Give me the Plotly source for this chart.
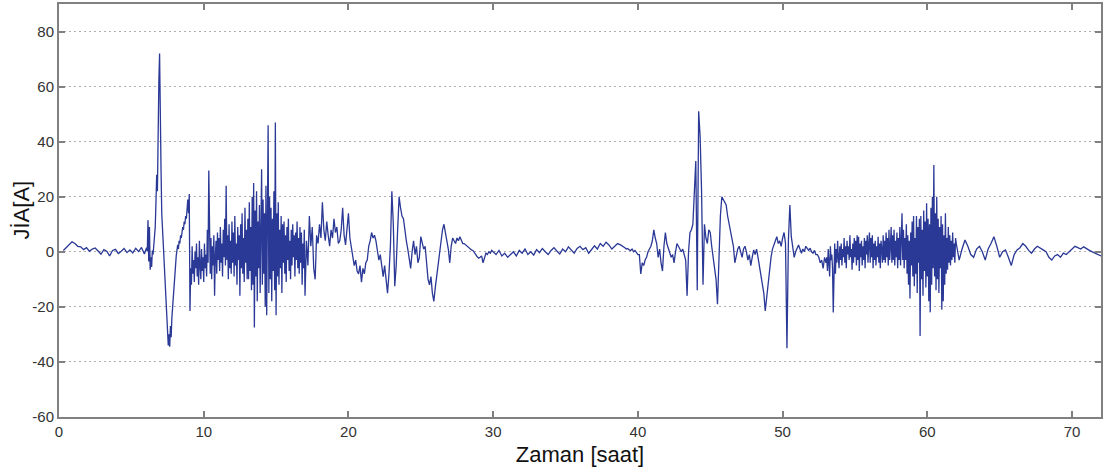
import numpy as np
import plotly.graph_objects as go

# Leakage-current record, sampled in segments: (start hour, step in hours, values in A)
quiet_start_t0, quiet_start_dt = 0.3, 0.2
quiet_start = [0.5, 1.5, 2.8, 3.6, 3.0, 2.0, 1.8, 0.8, 1.5, 0.2, 1.0, 1.4, 0.3, -0.9, 0.8,
               0.2, -1.5, 0.5, 0.9, -0.6, 0.2, 1.2, -0.3, 0.7, -0.4, 1.3, 0.1, 1.6, -0.8]

surge_t0, surge_dt = 6.0, 0.05
surge = [0.8, 1.5, 0.2, 11.5, -3.5, 9.0, -6.5, -2.0, -5.5, 0.5,
         -1.0, 1.5, 4.0, 9.0, 18.0, 28.0, 22.0, 48.0, 62.0, 72.0,
         58.0, 30.0, 14.0, 8.0, 4.0, -3.0, -9.0, -15.0, -21.0, -26.0,
         -31.0, -34.0, -30.0, -34.5, -27.0, -31.0, -24.0, -20.0, -15.0, -11.0,
         -7.0, -4.0, -1.5, 0.5, 2.5, 1.0, 4.0, 3.0, 6.0, 5.0,
         7.5, 9.0, 8.0, 11.0, 10.0, 13.0, 12.0, 16.0, 19.0, 14.0, 21.0]

burst_a_t0, burst_a_dt = 9.05, 0.05
burst_a = [-21.5, -6, -12, 2, -8, -3, -11, 0, -6, 3,
           -9, -2, -12, 4, -5, -10, 1, -7, -2, -11,
           3, -6, -1, -9, 8, -4, 29.5, -3, -8, 5,
           -10, 2, -5, 6, -16, -2, 4, -8, 7, -3,
           5, -7, 9, -4, 3, -9, 8, -2, 12, -5,
           24, -3, 6, -10, 10, -6, 4, -8, 11, -4,
           7, -9, 13, -5, 3, -12, 9, -3, 6, -16,
           10, -6, 14, -8, 5, -11, 16, -4, 8, -10,
           12, -10, 18, -7, 9, -14, 20, -12, 25, -27.5,
           15, -9, 22, -18, 11, -6, 17, -15, 9, 30,
           -12, 19, -8, 14, -20, 24, -23, 10, 46, -15,
           20, -10, 16, -18, 12, -7, 22, -14, 47, -23,
           14, -9, 18, -12, 8, -6, 13, -15, 10, -4,
           11, -8, 6, -11, 9, -3, 12, -7, 4, -10,
           8, -5, 10, -2, 6, -9, 7, -3, 11, -6,
           5, -8, 9, -4, 7, -12, 3, -6, 8, -16]

swing_t0, swing_dt = 17.1, 0.1
swing = [4, -5, 13, 2, 9, -6, -10, 6, 3, 10,
         5, 18, 8, 4, 11, 6, 2, 8, 5, 12,
         7, 9, 3, 4, 8, 16, 6, 2.5, 9, 14,
         5, 2, -2, -5, -3, -7, -8, -5, -11, -6,
         -8, -4, -3, 2, 4, 7, 5, 6, 4, 1,
         -3, -1, -6, -9, -5, -11, -15, -8, 2, 22,
         10, -12.5, -5, 8, 20, 16, 13, 12, 7, 4,
         1, -3, -6, 0, 4, -1, 2, -4, -2, 5.5,
         3, 1, 2, -3, -10, -12, -9, -15, -18, -13,
         -9, -3, 1, 4, 8, 10, 6, 4, 1, -4,
         2, 5, 4, 3, 5, 4, 5.5, 4, 3, 3,
         2.5, 2, 1.5, 1, 0.7, 0.5, -0.5, -1, -1.8, -2.3,
         -2, -1.5, -4, -2.5, -0.5, -1, 0, -0.5, 0.5, 0]

quiet_mid_t0, quiet_mid_dt = 30.2, 0.2
quiet_mid = [-1, 0.5, -1.5, -0.5, -2, -1, 0, -1.5, 0.5, -0.5,
             1, -1, 0, -1.2, 0.8, -0.3, 1.2, 0, -1, 0.5,
             1.5, 0.3, -0.8, 1, 0, 1.8, 0.5, -0.5, 1.2, 2,
             0.8, 1.5, -0.5, 1, 2.2, 1, 3, 2, 3.5, 2.5,
             1, 2, 3, 2.5]

second_t0, second_dt = 39.0, 0.1
second = [2, 1.5, 1, 1.2, 0.7, 0.5, 1, 0, 0.5, -0.5,
          -1, -1, -8, -4, -5, -3, -2, 0, 1, 2,
          4, 8, 5, 3, -2, 1, -4, -7, 2, 7,
          3, 1, 0, -2, -1, -4, 0, 3, 2, 1,
          0, 1, -1, -3, -16, 0, 7, 8, 10, 20,
          33, -14, 51, 42, 22, -12, 10, 5, 3, 8,
          7, 2, -2, -4, -10, -19, 1, 13, 20, 19,
          18, 17, 13, 10, 8, 5.5, 2, -4, -1, 1,
          2, 0, -2, 1, 2, 0, -3, -1, -5, -2,
          0.7, -1, 1, -2, -5, -9, -12, -15, -21.5, -16,
          -12.5, -6, -2, 1, 3, 4, 5.5, 3, 4, 2,
          5, 7, 3, -35, 4, 17, 5.5, 2, -2, 0,
          1, 2.5, 1, -0.5, 1, 0, 2, 1, 0.5, 1.3,
          0, -0.5, 0.5, -1, -1, -2, -4, -3, -6, -2, -4]

burst_b_t0, burst_b_dt = 53.05, 0.05
burst_b = [-2, -7, 1, -4, -9, 2, -3, -1, -6, -22,
           -5, 3, -8, 1, -4, 4, -2, -6, 2, -3,
           3, -5, 1, -2, 5, -4, 2, -6, 4, -1,
           2, -3, 6, -2, 1, -6.5, 3, -4, 5, -2,
           4, -5, 6, -3, 5.5, -7, 3, -2, 4, -5,
           2, -3, 5, -6, 4, -1, 6, -4, 3, 7,
           -4, 5, -2, 6, -6, 3, -3, 4, -5, 2,
           -2, 5.5, -4, 3, -6, 4, 1, -4, 6, -3,
           4, -4, 7, -2, 5, -5, 8, -3, 2, 9,
           -4, 6, -3, 8, -5, 4, -2, 7, -6, 5,
           -3, 9, -5, 6, 14, -3, 8, -6, 5, -3,
           10, -8, 6, -12, 4, -17, 7, -5, 11, -9,
           13, -12.5, 5, -8, 13, -15, 9, -4, 12, -30.6,
           13, -10, 8, -16, 15, -7, 11, -13, 17.6, -9,
           12, -18, 10, -22, 16, -12, 20, -6, 31.5, -9,
           14, -14, 20, -10, 12, -15, 9, -6, 13, -21,
           10, -18, 6, -12, 14, -8, 5, -6.5, 9, -4,
           6, -5, 4, -3, 7, -2, 3, -4, 5, 3]

quiet_end_t0, quiet_end_dt = 62.2, 0.2
quiet_end = [-3, 1, 4.3, 2, -1, -2, 1, 2, 0, -3,
             1, 3, 5.5, 2, -2, 0, 0.7, -2, -5, -1,
             0.7, 1.5, 3, 2, 0.5, -0.5, 1, 2, 1.5, 0.7,
             0, -2, -3, -1.5, -1, -2, -0.5, -1, 0, 1,
             2, 1.5, 1, 1.8, 1, 0.5, 0, -0.5, -1, -1.5]

x_ticks = [0, 10, 20, 30, 40, 50, 60, 70]
y_ticks = [-60, -40, -20, 0, 20, 40, 60, 80]

segments = [
    (quiet_start_t0, quiet_start_dt, quiet_start),
    (surge_t0, surge_dt, surge),
    (burst_a_t0, burst_a_dt, burst_a),
    (swing_t0, swing_dt, swing),
    (quiet_mid_t0, quiet_mid_dt, quiet_mid),
    (second_t0, second_dt, second),
    (burst_b_t0, burst_b_dt, burst_b),
    (quiet_end_t0, quiet_end_dt, quiet_end),
]

hours, current = [], []
for t0, dt, vals in segments:
    hours.extend(t0 + dt * np.arange(len(vals)))
    current.extend(vals)

FONT = "Liberation Sans, Arial, sans-serif"

fig = go.Figure()
fig.add_trace(go.Scatter(
    x=hours, y=current, mode="lines",
    line=dict(color="#2a3896", width=1.3),
    showlegend=False, hoverinfo="skip",
))

axis_common = dict(
    showline=True, linecolor="#808080", linewidth=2, mirror="ticks",
    ticks="inside", ticklen=6, tickwidth=1.5, tickcolor="#808080",
    tickfont=dict(family=FONT, size=15, color="#333333"),
    zeroline=False,
)

fig.update_xaxes(
    range=[0, 72], tickvals=x_ticks, ticktext=[str(v) for v in x_ticks],
    showgrid=False,
    title=dict(text="Zaman [saat]", standoff=8,
               font=dict(family=FONT, size=22, color="#111111")),
    **axis_common,
)
fig.update_yaxes(
    range=[-60, 90], tickvals=y_ticks, ticktext=[str(v) for v in y_ticks],
    showgrid=True, gridcolor="#b0b0b0", griddash="2px,3px", gridwidth=1,
    **axis_common,
)

# y-axis label placed by hand, centred on the plot height
fig.add_annotation(
    text="JİA[A]", textangle=-90, showarrow=False,
    xref="paper", yref="paper", x=0, y=0.5, xanchor="center", yanchor="middle",
    xshift=-38, font=dict(family=FONT, size=22, color="#111111"),
)

fig.update_layout(
    width=1105, height=476,
    margin=dict(l=59, r=4, t=2, b=59),
    paper_bgcolor="white", plot_bgcolor="white",
)

fig.write_html("out.html")
